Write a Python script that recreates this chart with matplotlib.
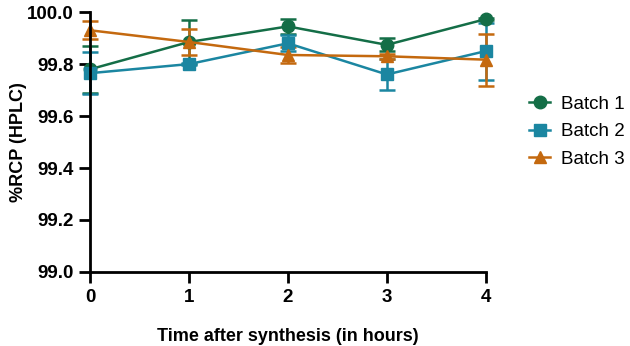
import matplotlib
matplotlib.use('Agg')
import matplotlib.pyplot as plt
from matplotlib.lines import Line2D

plt.rcParams['font.family'] = ['Liberation Sans', 'DejaVu Sans']

hours = [0, 1, 2, 3, 4]
batch1 = [99.78, 99.885, 99.945, 99.874, 99.973]
batch1_err = [0.09, 0.085, 0.03, 0.025, 0.005]
batch2 = [99.765, 99.80, 99.88, 99.76, 99.85]
batch2_err = [0.08, 0.005, 0.03, 0.06, 0.11]
batch3 = [99.93, 99.885, 99.835, 99.83, 99.817]
batch3_err = [0.035, 0.05, 0.03, 0.01, 0.10]
labels = ['Batch 1', 'Batch 2', 'Batch 3']
colors = ['#146e47', '#1b86a1', '#c4690f']
markers = ['o', 's', '^']

fig = plt.figure(figsize=(6.3, 3.46), dpi=100)
ax = fig.add_axes([0.143, 0.214, 0.628, 0.751])

handles = []
for y, e, lab, c, m in zip([batch1, batch2, batch3], [batch1_err, batch2_err, batch3_err],
                           labels, colors, markers):
    ax.errorbar(hours, y, yerr=e, color=c, marker=m, markersize=9, linewidth=1.8,
                elinewidth=1.8, capsize=6, capthick=1.8, clip_on=False)
    handles.append(Line2D([], [], color=c, marker=m, markersize=9, linewidth=1.8, label=lab))

ax.set_xlim(0, 4)
ax.set_ylim(99.0, 100.0)
ax.set_xticks(hours)
ax.set_yticks([99.0, 99.2, 99.4, 99.6, 99.8, 100.0])
ax.set_yticklabels(['99.0', '99.2', '99.4', '99.6', '99.8', '100.0'])
for s in ['top', 'right']:
    ax.spines[s].set_visible(False)
for s in ['left', 'bottom']:
    ax.spines[s].set_linewidth(2)
ax.tick_params(width=2, length=8, labelsize=13.5, pad=4)
for t in ax.get_xticklabels() + ax.get_yticklabels():
    t.set_fontweight('bold')
ax.set_xlabel('Time after synthesis (in hours)', fontsize=13, fontweight='bold', labelpad=16)
ax.set_ylabel('%RCP (HPLC)', fontsize=13, fontweight='bold')
ax.yaxis.set_label_coords(-0.16, 0.5)

ax.legend(handles=handles, loc='center left', bbox_to_anchor=(1.11, 0.54), frameon=False,
          fontsize=13.5, handlelength=1.1, labelspacing=0.55, borderpad=0, borderaxespad=0,
          handletextpad=0.6)

fig.savefig('out.png', dpi=100)
